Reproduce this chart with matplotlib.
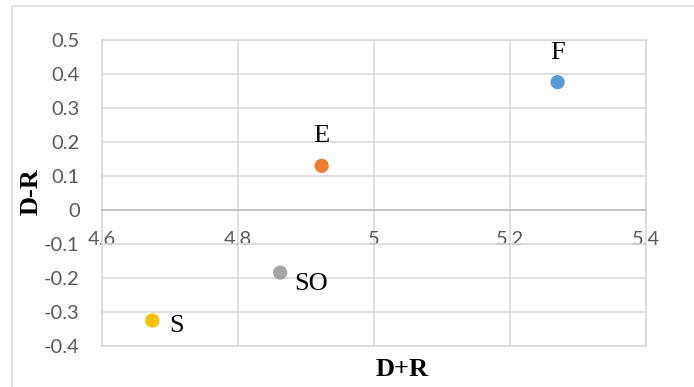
import matplotlib.pyplot as plt
from matplotlib.patches import Rectangle

# Data
labels = ["F", "E", "SO", "S"]
d_plus_r = [5.270, 4.923, 4.862, 4.674]
d_minus_r = [0.376, 0.130, -0.184, -0.325]
colors = ["#5B9BD5", "#ED7D31", "#A5A5A5", "#FFC000"]

x_ticks = [4.6, 4.8, 5.0, 5.2, 5.4]
x_tick_labels = ["4.6", "4.8", "5", "5.2", "5.4"]
y_ticks = [-0.4, -0.3, -0.2, -0.1, 0, 0.1, 0.2, 0.3, 0.4, 0.5]
y_tick_labels = ["-0.4", "-0.3", "-0.2", "-0.1", "0", "0.1", "0.2", "0.3", "0.4", "0.5"]

# label offsets (points) and alignment
offsets = [(0, 17), (0, 17), (10, -8), (12, -4)]
aligns = [("center", "baseline"), ("center", "baseline"), ("left", "center"), ("left", "center")]

fig = plt.figure(figsize=(6.94, 3.87), dpi=100)
ax = fig.add_axes([102 / 694, 41 / 387, 544 / 694, 306 / 387])

# outer chart frame
fig.patches.append(Rectangle((12 / 694, -0.05), 1.0, 1 - 6 / 387 + 0.05, transform=fig.transFigure,
                             fill=False, edgecolor="#D9D9D9", linewidth=1.2))

grid_c = "#D9D9D9"
ax.scatter(d_plus_r, d_minus_r, c=colors, s=105, zorder=3, edgecolors="none")
for lab, x, y, off, (ha, va) in zip(labels, d_plus_r, d_minus_r, offsets, aligns):
    ax.annotate(lab, (x, y), xytext=off, textcoords="offset points", ha=ha, va=va,
                fontsize=19, family="Liberation Serif", color="black")

ax.set_xlim(4.6, 5.4)
ax.set_ylim(-0.4, 0.5)
ax.set_xticks(x_ticks)
ax.set_xticklabels(x_tick_labels)
ax.set_yticks(y_ticks)
ax.set_yticklabels(y_tick_labels)
ax.grid(True, color=grid_c, linewidth=1.2, zorder=0)
ax.set_axisbelow(True)

for s in ["top", "right", "left"]:
    ax.spines[s].set_color(grid_c)
    ax.spines[s].set_linewidth(1.2)
ax.spines["bottom"].set_position(("data", 0))
ax.spines["bottom"].set_color("#BFBFBF")
ax.spines["bottom"].set_linewidth(1.2)
ax.axhline(-0.4, color=grid_c, linewidth=1.2, clip_on=False, zorder=0)

ax.tick_params(axis="both", length=0, labelsize=14.5, labelcolor="#595959")
ax.tick_params(axis="y", pad=16)
ax.tick_params(axis="x", pad=15)
for t in ax.get_xticklabels() + ax.get_yticklabels():
    t.set_family("Lato")

fig.text(402 / 694, 1 - 370 / 387, "D+R", ha="center", va="center", fontsize=19,
         fontweight="bold", family="Liberation Serif")
fig.text(31 / 694, 1 - 192 / 387, "D-R", ha="center", va="center", rotation=90, fontsize=19,
         fontweight="bold", family="Liberation Serif")

fig.savefig("out.png", dpi=100)
